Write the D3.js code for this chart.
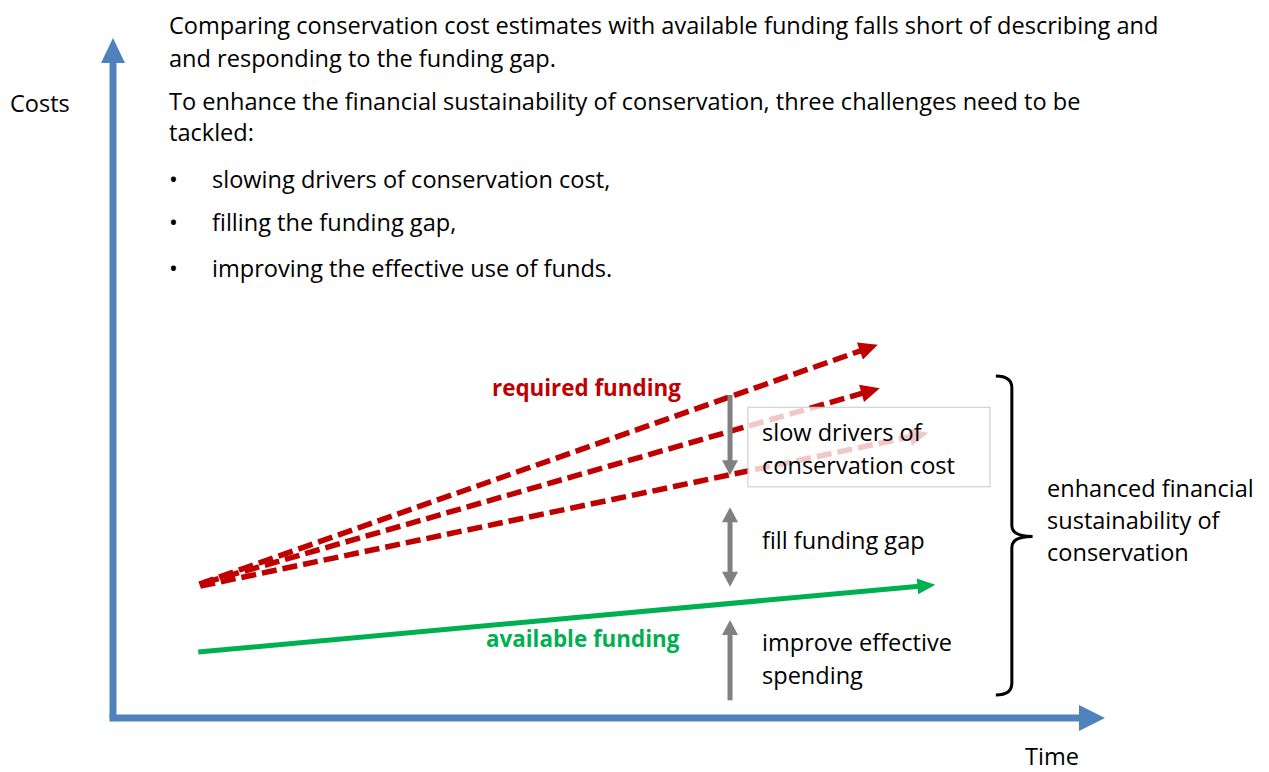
<!DOCTYPE html>
<html>
<head>
<meta charset="utf-8">
<script src="https://d3js.org/d3.v7.min.js"></script>
<style>
body { margin: 0; background: #fff; }
text { font-family: "Open Sans", sans-serif; fill: #000; }
</style>
</head>
<body>
<svg id="chart"></svg>
<script>
var width = 1269
var height = 772

// conceptual values on a 0-100 time / cost scale
var requiredStartTime = [8.7, 9.2, 8.8]
var requiredStartCost = [19.7, 19.9, 19.4]
var requiredEndTime = [77.1, 77.3, 82.2]
var requiredEndCost = [54.9, 48.5, 41.9]

var availableTime = [8.6, 82.9]
var availableCost = [9.7, 19.6]

// grey arrows between the lines: [from cost, to cost, double headed]
var gapTime = 62.2
var gapFrom = [47.5, 31.0, 2.6]
var gapTo = [35.7, 19.3, 14.4]
var gapDouble = [false, true, false]

var introLines = [
	"Comparing conservation cost estimates with available funding falls short of describing and",
	"and responding to the funding gap.",
	"To enhance the financial sustainability of conservation, three challenges need to be",
	"tackled:"
]
var bullets = [
	"slowing drivers of conservation cost,",
	"filling the funding gap,",
	"improving the effective use of funds."
]
var gapLabels = [["slow drivers of", "conservation cost"], ["fill funding gap"], ["improve effective", "spending"]]
var gapLabelCost = [40.8, 24.8, 9.8]
var resultLabel = ["enhanced financial", "sustainability of", "conservation"]

var svg = d3.select("#chart")
	.attr("width", width)
	.attr("height", height)

var x = d3.scaleLinear().domain([0, 100]).range([113, 1105])
var y = d3.scaleLinear().domain([0, 100]).range([718, 38])

// draws a line with a solid triangle head at (x2,y2); optional head at start too
function arrow(g, x1, y1, x2, y2, o) {
	var dx = x2 - x1, dy = y2 - y1
	var len = Math.sqrt(dx * dx + dy * dy)
	var ux = dx / len, uy = dy / len
	var sx = x1, sy = y1
	var ex = x2 - ux * o.head * 0.9, ey = y2 - uy * o.head * 0.9
	if (o.both) { sx = x1 + ux * o.head * 0.9; sy = y1 + uy * o.head * 0.9 }
	g.append("line")
		.attr("x1", sx).attr("y1", sy).attr("x2", ex).attr("y2", ey)
		.attr("stroke", o.color)
		.attr("stroke-width", o.width)
		.attr("stroke-dasharray", o.dash || null)
	function head(tx, ty, vx, vy) {
		var bx = tx - vx * o.head, by = ty - vy * o.head
		var px = -vy * o.wide / 2, py = vx * o.wide / 2
		g.append("polygon")
			.attr("points", [[tx, ty], [bx + px, by + py], [bx - px, by - py]].map(function(p) { return p.join(","); }).join(" "))
			.attr("fill", o.color)
	}
	head(x2, y2, ux, uy)
	if (o.both) head(x1, y1, -ux, -uy)
}

var g = svg.append("g")

// required funding (dashed red)
requiredEndTime.forEach(function(t, i) {
	arrow(g, x(requiredStartTime[i]), y(requiredStartCost[i]), x(t), y(requiredEndCost[i]),
		{color: "#c00000", width: 5.5, dash: "15,6", head: 19, wide: 18})
})

// available funding (green)
arrow(g, x(availableTime[0]), y(availableCost[0]), x(availableTime[1]), y(availableCost[1]),
	{color: "#00b050", width: 5, head: 18, wide: 16})

// translucent box over the lowest required line
g.append("rect")
	.attr("x", x(64.0))
	.attr("y", y(45.7))
	.attr("width", x(88.4) - x(64.0))
	.attr("height", y(34.0) - y(45.7))
	.attr("fill", "#fff")
	.attr("fill-opacity", 0.78)
	.attr("stroke", "#c8c8c8")
	.attr("stroke-width", 1)

// grey gap arrows
gapFrom.forEach(function(c, i) {
	arrow(g, x(gapTime), y(c), x(gapTime), y(gapTo[i]),
		{color: "#808080", width: 5, head: 15, wide: 16, both: gapDouble[i]})
})

// axes
arrow(g, x(0), y(0), x(0), y(100), {color: "#4f81bd", width: 7, head: 25, wide: 24})
arrow(g, x(0) - 3.5, y(0), x(100), y(0), {color: "#4f81bd", width: 7, head: 26, wide: 26})

// curly brace
var bx = x(89.4) + 12, bt = y(50.3), bb = y(3.4), bm = y(26.7), tip = x(92.7)
g.append("path")
	.attr("d", "M" + (bx - 16) + "," + bt + " Q" + bx + "," + bt + " " + bx + "," + (bt + 12) +
		" L" + bx + "," + (bm - 11) + " Q" + bx + "," + bm + " " + tip + "," + bm +
		" Q" + bx + "," + bm + " " + bx + "," + (bm + 11) +
		" L" + bx + "," + (bb - 12) + " Q" + bx + "," + bb + " " + (bx - 16) + "," + bb)
	.attr("fill", "none")
	.attr("stroke", "#000")
	.attr("stroke-width", 3)

// font size so that a sample string reaches a target width
function fitSize(str, target, weight) {
	var t = svg.append("text").attr("font-size", 20).attr("font-weight", weight || "normal").text(str)
	var w = t.node().getComputedTextLength()
	t.remove()
	return 20 * target / w
}

var bodySize = fitSize(introLines[0], 990)
var labelSize = fitSize("conservation cost", 193)
var boldSize = fitSize("required funding", 189, "bold")

var introY = [34, 67, 110, 141]
introLines.forEach(function(s, i) {
	svg.append("text").attr("x", 169).attr("y", introY[i]).attr("font-size", bodySize).text(s)
})
var bulletY = [188, 231, 277]
bullets.forEach(function(s, i) {
	svg.append("text").attr("x", 169).attr("y", bulletY[i]).attr("font-size", bodySize).text("\u2022")
	svg.append("text").attr("x", 212).attr("y", bulletY[i]).attr("font-size", bodySize).text(s)
})

svg.append("text").attr("x", 10).attr("y", 112).attr("font-size", labelSize).text("Costs")
svg.append("text").attr("x", 1025).attr("y", 765).attr("font-size", labelSize).text("Time")

svg.append("text").attr("x", 492).attr("y", 396).attr("font-size", boldSize)
	.attr("font-weight", "bold").style("fill", "#c00000").text("required funding")
svg.append("text").attr("x", 486).attr("y", 647).attr("font-size", boldSize)
	.attr("font-weight", "bold").style("fill", "#00b050").text("available funding")

gapLabels.forEach(function(lines, i) {
	lines.forEach(function(s, j) {
		svg.append("text").attr("x", 762).attr("y", y(gapLabelCost[i]) + j * 33)
			.attr("font-size", labelSize).text(s)
	})
})

resultLabel.forEach(function(s, j) {
	svg.append("text").attr("x", 1047).attr("y", 497 + j * 32).attr("font-size", labelSize).text(s)
})
</script>
</body>
</html>
